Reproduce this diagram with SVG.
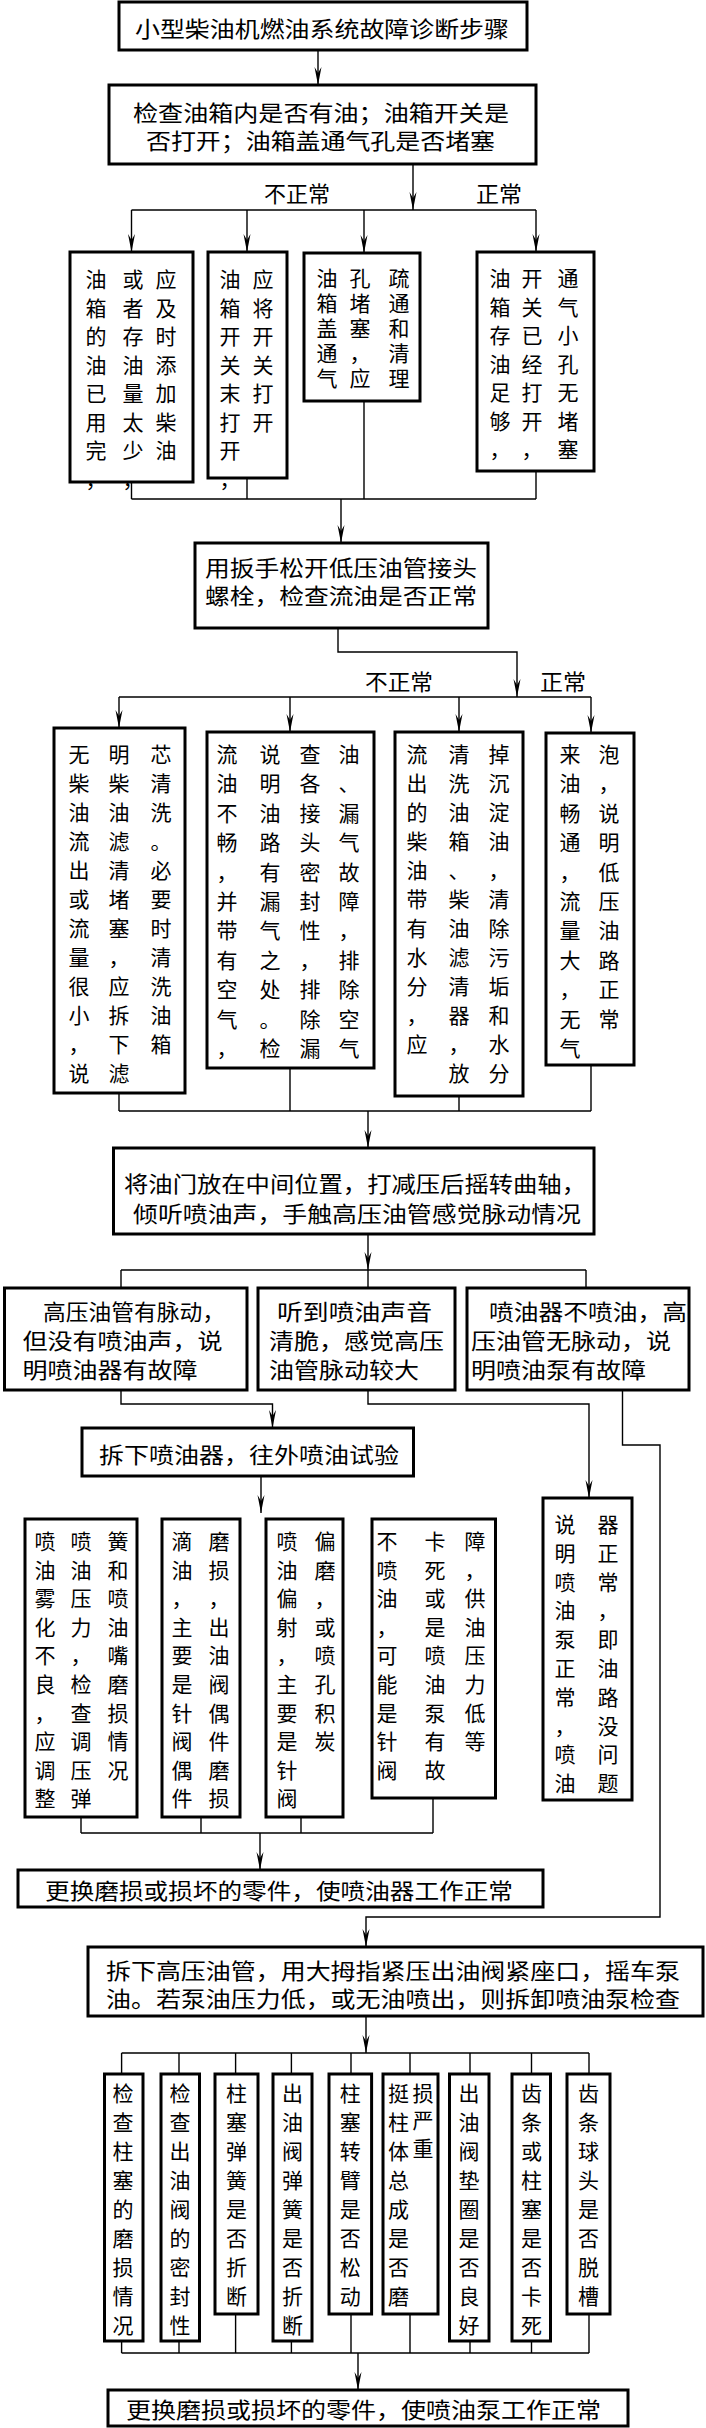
<svg xmlns="http://www.w3.org/2000/svg" width="706" height="2428" viewBox="0 0 706 2428">
<style>
.box{fill:#fff;stroke:#000;stroke-width:3}
.ln{fill:none;stroke:#000;stroke-width:1.4}
.h{font-family:"Noto Sans CJK SC","Noto Sans CJK JP",sans-serif;font-size:22px;fill:#000;dominant-baseline:central}
.v{font-family:"Noto Sans CJK SC","Noto Sans CJK JP",sans-serif;font-size:21px;fill:#000;dominant-baseline:central;text-anchor:middle}
</style>
<defs>
<marker id="ah" markerUnits="userSpaceOnUse" markerWidth="20" markerHeight="10" viewBox="-19 -5 20 10" refX="0" refY="0" orient="auto">
<path d="M0,0 L-18,-3.5 L-12,0 L-18,3.5 Z" fill="#000"/>
</marker>
</defs>
<rect width="706" height="2428" fill="#fff"/>
<g id="connectors">
<path class="ln" d="M318,50 V85" marker-end="url(#ah)"/>
<path class="ln" d="M413,164 V210" marker-end="url(#ah)"/>
<path class="ln" d="M131.5,210 H536"/>
<path class="ln" d="M131.5,210 V252" marker-end="url(#ah)"/>
<path class="ln" d="M247,210 V252" marker-end="url(#ah)"/>
<path class="ln" d="M364,210 V253" marker-end="url(#ah)"/>
<path class="ln" d="M536,210 V252" marker-end="url(#ah)"/>
<path class="ln" d="M131.5,482 V499 M247,478 V499 M364,401 V499 M536,471 V499 M131.5,499 H536"/>
<path class="ln" d="M341,499 V543" marker-end="url(#ah)"/>
<path class="ln" d="M338,628 V652 H517 V697" marker-end="url(#ah)"/>
<path class="ln" d="M119,697 H591"/>
<path class="ln" d="M119,697 V728" marker-end="url(#ah)"/>
<path class="ln" d="M290,697 V732" marker-end="url(#ah)"/>
<path class="ln" d="M459,697 V732" marker-end="url(#ah)"/>
<path class="ln" d="M591,697 V733" marker-end="url(#ah)"/>
<path class="ln" d="M119,1093 V1111 M290,1068 V1111 M459,1096 V1111 M591,1065 V1111 M119,1111 H591"/>
<path class="ln" d="M368,1111 V1148" marker-end="url(#ah)"/>
<path class="ln" d="M368,1234 V1270" marker-end="url(#ah)"/>
<path class="ln" d="M121,1270 H586 M121,1270 V1288 M368,1270 V1288 M586,1270 V1288"/>
<path class="ln" d="M121,1390 V1404 H272.5 V1428" marker-end="url(#ah)"/>
<path class="ln" d="M368,1390 V1404 H589 V1498" marker-end="url(#ah)"/>
<path class="ln" d="M622.5,1390 V1445 H660 V1917 H366 V1947" marker-end="url(#ah)"/>
<path class="ln" d="M261,1476 V1513" marker-end="url(#ah)"/>
<path class="ln" d="M81,1817 V1833 M201,1817 V1833 M301,1817 V1833 M433,1798 V1833 M81,1833 H433"/>
<path class="ln" d="M260,1833 V1870" marker-end="url(#ah)"/>
<path class="ln" d="M366,2016 V2053" marker-end="url(#ah)"/>
<path class="ln" d="M121.6,2053 H589 M121.6,2053 V2074 M179,2053 V2074 M235.6,2053 V2074 M291.4,2053 V2074 M351,2053 V2074 M410,2053 V2074 M470,2053 V2074 M531.5,2053 V2074 M589,2053 V2074"/>
<path class="ln" d="M121.6,2341 V2353 M179,2341 V2353 M235.6,2314 V2353 M291.4,2341 V2353 M351,2314 V2353 M410,2314 V2353 M470,2341 V2353 M531.5,2341 V2353 M589,2314 V2353 M121.6,2353 H589"/>
<path class="ln" d="M358,2353 V2390" marker-end="url(#ah)"/>
</g>
<g id="title">
<rect class="box" x="119" y="2" width="408" height="48"/>
<text class="h" x="135" y="27" textLength="374" lengthAdjust="spacingAndGlyphs">小型柴油机燃油系统故障诊断步骤</text>
</g>
<g id="check-tank">
<rect class="box" x="109" y="85" width="427" height="79"/>
<text class="h"><tspan x="133" y="110.5" textLength="376" lengthAdjust="spacingAndGlyphs">检查油箱内是否有油；油箱开关是</tspan><tspan x="146" y="138.5" textLength="349" lengthAdjust="spacingAndGlyphs">否打开；油箱盖通气孔是否堵塞</tspan></text>
</g>
<g id="r1-add-oil">
<rect class="box" x="70" y="252" width="123" height="230"/>
<text class="v" x="96 96 96 96 96 96 96 96" y="278 306.5 335 363.5 392 420.5 449 477.5">油箱的油已用完，</text>
<text class="v" x="133 133 133 133 133 133 133 133" y="278 306.5 335 363.5 392 420.5 449 477.5">或者存油量太少，</text>
<text class="v" x="166 166 166 166 166 166 166" y="278 306.5 335 363.5 392 420.5 449">应及时添加柴油</text>
</g>
<g id="r1-open-switch">
<rect class="box" x="208" y="252" width="79" height="226"/>
<text class="v" x="230 230 230 230 230 230 230 230" y="278 306.5 335 363.5 392 420.5 449 477.5">油箱开关末打开，</text>
<text class="v" x="263 263 263 263 263 263" y="278 306.5 335 363.5 392 420.5">应将开关打开</text>
</g>
<g id="r1-vent">
<rect class="box" x="304" y="253" width="116" height="148"/>
<text class="v" x="327 327 327 327 327" y="277 302 327 352 377">油箱盖通气</text>
<text class="v" x="360 360 360 360 360" y="277 302 327 352 377">孔堵塞，应</text>
<text class="v" x="399 399 399 399 399" y="277 302 327 352 377">疏通和清理</text>
</g>
<g id="r1-normal">
<rect class="box" x="477" y="252" width="117" height="219"/>
<text class="v" x="500 500 500 500 500 500 500" y="277 305.5 334 362.5 391 419.5 448">油箱存油足够，</text>
<text class="v" x="532 532 532 532 532 532 532" y="277 305.5 334 362.5 391 419.5 448">开关已经打开，</text>
<text class="v" x="568 568 568 568 568 568 568" y="277 305.5 334 362.5 391 419.5 448">通气小孔无堵塞</text>
</g>
<g id="loosen-bolt">
<rect class="box" x="195" y="543" width="293" height="85"/>
<text class="h"><tspan x="205" y="566" textLength="272" lengthAdjust="spacingAndGlyphs">用扳手松开低压油管接头</tspan><tspan x="205" y="594" textLength="272" lengthAdjust="spacingAndGlyphs">螺栓，检查流油是否正常</tspan></text>
</g>
<g id="r2-filter">
<rect class="box" x="54" y="728" width="131" height="365"/>
<text class="v" x="79 79 79 79 79 79 79 79 79 79 79 79" y="753 782 811 840 869 898 927 956 985 1014 1043 1072">无柴油流出或流量很小，说</text>
<text class="v" x="119 119 119 119 119 119 119 119 119 119 119 119" y="753 782 811 840 869 898 927 956 985 1014 1043 1072">明柴油滤清堵塞，应拆下滤</text>
<text class="v" x="161 161 161 161 161 161 161 161 161 161 161" y="753 782 811 840 869 898 927 956 985 1014 1043">芯清洗。必要时清洗油箱</text>
</g>
<g id="r2-leak">
<rect class="box" x="207" y="732" width="167" height="336"/>
<text class="v" x="227 227 227 227 227 227 227 227 227 227 227" y="753 782.4 811.8 841.2 870.6 900 929.4 958.8 988.2 1017.6 1047">流油不畅，并带有空气，</text>
<text class="v" x="270 270 270 270 270 270 270 270 270 270 270" y="753 782.4 811.8 841.2 870.6 900 929.4 958.8 988.2 1017.6 1047">说明油路有漏气之处。检</text>
<text class="v" x="310 310 310 310 310 310 310 310 310 310 310" y="753 782.4 811.8 841.2 870.6 900 929.4 958.8 988.2 1017.6 1047">查各接头密封性，排除漏</text>
<text class="v" x="349 349 349 349 349 349 349 349 349 349 349" y="753 782.4 811.8 841.2 870.6 900 929.4 958.8 988.2 1017.6 1047">油、漏气故障，排除空气</text>
</g>
<g id="r2-water">
<rect class="box" x="395" y="732" width="128" height="364"/>
<text class="v" x="417 417 417 417 417 417 417 417 417 417 417" y="753 782 811 840 869 898 927 956 985 1014 1043">流出的柴油带有水分，应</text>
<text class="v" x="459 459 459 459 459 459 459 459 459 459 459 459" y="753 782 811 840 869 898 927 956 985 1014 1043 1072">清洗油箱、柴油滤清器，放</text>
<text class="v" x="499 499 499 499 499 499 499 499 499 499 499 499" y="753 782 811 840 869 898 927 956 985 1014 1043 1072">掉沉淀油，清除污垢和水分</text>
</g>
<g id="r2-normal">
<rect class="box" x="546" y="733" width="88" height="332"/>
<text class="v" x="570 570 570 570 570 570 570 570 570 570 570" y="753 782.4 811.8 841.2 870.6 900 929.4 958.8 988.2 1017.6 1047">来油畅通，流量大，无气</text>
<text class="v" x="609 609 609 609 609 609 609 609 609 609" y="753 782.4 811.8 841.2 870.6 900 929.4 958.8 988.2 1017.6">泡，说明低压油路正常</text>
</g>
<g id="throttle-test">
<rect class="box" x="113.5" y="1148" width="480.5" height="86"/>
<text class="h"><tspan x="124" y="1182" textLength="462" lengthAdjust="spacingAndGlyphs">将油门放在中间位置，打减压后摇转曲轴，</tspan><tspan x="133" y="1212" textLength="448" lengthAdjust="spacingAndGlyphs">倾听喷油声，手触高压油管感觉脉动情况</tspan></text>
</g>
<g id="injector-fault">
<rect class="box" x="4.5" y="1288" width="242.5" height="102"/>
<text class="h"><tspan x="43" y="1310" textLength="182" lengthAdjust="spacingAndGlyphs">高压油管有脉动，</tspan><tspan x="22.5" y="1339" textLength="200" lengthAdjust="spacingAndGlyphs">但没有喷油声，说</tspan><tspan x="22.5" y="1368" textLength="175" lengthAdjust="spacingAndGlyphs">明喷油器有故障</tspan></text>
</g>
<g id="sound-ok">
<rect class="box" x="258" y="1288" width="197" height="102"/>
<text class="h"><tspan x="277" y="1310" textLength="155" lengthAdjust="spacingAndGlyphs">听到喷油声音</tspan><tspan x="269" y="1339" textLength="175" lengthAdjust="spacingAndGlyphs">清脆，感觉高压</tspan><tspan x="269" y="1368" textLength="150" lengthAdjust="spacingAndGlyphs">油管脉动较大</tspan></text>
</g>
<g id="pump-fault">
<rect class="box" x="467" y="1288" width="222" height="102"/>
<text class="h"><tspan x="489" y="1310" textLength="198" lengthAdjust="spacingAndGlyphs">喷油器不喷油，高</tspan><tspan x="471" y="1339" textLength="200" lengthAdjust="spacingAndGlyphs">压油管无脉动，说</tspan><tspan x="471" y="1368" textLength="175" lengthAdjust="spacingAndGlyphs">明喷油泵有故障</tspan></text>
</g>
<g id="remove-injector">
<rect class="box" x="82" y="1428" width="331.5" height="48"/>
<text class="h" x="99" y="1453" textLength="300" lengthAdjust="spacingAndGlyphs">拆下喷油器，往外喷油试验</text>
</g>
<g id="i1-atomize">
<rect class="box" x="25" y="1519" width="112" height="298"/>
<text class="v" x="45 45 45 45 45 45 45 45 45 45" y="1540 1568.6 1597.2 1625.8 1654.4 1683 1711.6 1740.2 1768.8 1797.4">喷油雾化不良，应调整</text>
<text class="v" x="81 81 81 81 81 81 81 81 81 81" y="1540 1568.6 1597.2 1625.8 1654.4 1683 1711.6 1740.2 1768.8 1797.4">喷油压力，检查调压弹</text>
<text class="v" x="118 118 118 118 118 118 118 118 118" y="1540 1568.6 1597.2 1625.8 1654.4 1683 1711.6 1740.2 1768.8">簧和喷油嘴磨损情况</text>
</g>
<g id="i2-drip">
<rect class="box" x="162" y="1519" width="78" height="298"/>
<text class="v" x="182 182 182 182 182 182 182 182 182 182" y="1540 1568.6 1597.2 1625.8 1654.4 1683 1711.6 1740.2 1768.8 1797.4">滴油，主要是针阀偶件</text>
<text class="v" x="219 219 219 219 219 219 219 219 219 219" y="1540 1568.6 1597.2 1625.8 1654.4 1683 1711.6 1740.2 1768.8 1797.4">磨损，出油阀偶件磨损</text>
</g>
<g id="i3-spray">
<rect class="box" x="266" y="1519" width="77" height="298"/>
<text class="v" x="287 287 287 287 287 287 287 287 287 287" y="1540 1568.6 1597.2 1625.8 1654.4 1683 1711.6 1740.2 1768.8 1797.4">喷油偏射，主要是针阀</text>
<text class="v" x="325 325 325 325 325 325 325 325" y="1540 1568.6 1597.2 1625.8 1654.4 1683 1711.6 1740.2">偏磨，或喷孔积炭</text>
</g>
<g id="i4-noinject">
<rect class="box" x="372" y="1519" width="123.5" height="279"/>
<text class="v" x="387 387 387 387 387 387 387 387 387" y="1540 1568.6 1597.2 1625.8 1654.4 1683 1711.6 1740.2 1768.8">不喷油，可能是针阀</text>
<text class="v" x="435 435 435 435 435 435 435 435 435" y="1540 1568.6 1597.2 1625.8 1654.4 1683 1711.6 1740.2 1768.8">卡死或是喷油泵有故</text>
<text class="v" x="475 475 475 475 475 475 475 475" y="1540 1568.6 1597.2 1625.8 1654.4 1683 1711.6 1740.2">障，供油压力低等</text>
</g>
<g id="i5-normal">
<rect class="box" x="543" y="1498" width="89" height="302"/>
<text class="v" x="565 565 565 565 565 565 565 565 565 565" y="1523 1551.8 1580.6 1609.4 1638.2 1667 1695.8 1724.6 1753.4 1782.2">说明喷油泵正常，喷油</text>
<text class="v" x="608 608 608 608 608 608 608 608 608 608" y="1523 1551.8 1580.6 1609.4 1638.2 1667 1695.8 1724.6 1753.4 1782.2">器正常，即油路没问题</text>
</g>
<g id="replace-injector-parts">
<rect class="box" x="18" y="1870" width="525" height="37"/>
<text class="h" x="45" y="1889" textLength="468" lengthAdjust="spacingAndGlyphs">更换磨损或损坏的零件，使喷油器工作正常</text>
</g>
<g id="pump-check">
<rect class="box" x="88" y="1947" width="615" height="69"/>
<text class="h"><tspan x="106" y="1969" textLength="574" lengthAdjust="spacingAndGlyphs">拆下高压油管，用大拇指紧压出油阀紧座口，摇车泵</tspan><tspan x="106" y="1997" textLength="574" lengthAdjust="spacingAndGlyphs">油。若泵油压力低，或无油喷出，则拆卸喷油泵检查</tspan></text>
</g>
<g id="p1">
<rect class="box" x="104.5" y="2074" width="38.5" height="267"/>
<text class="v" x="123 123 123 123 123 123 123 123 123" y="2092 2121 2150 2179 2208 2237 2266 2295 2324">检查柱塞的磨损情况</text>
</g>
<g id="p2">
<rect class="box" x="161" y="2074" width="38.5" height="267"/>
<text class="v" x="180 180 180 180 180 180 180 180 180" y="2092 2121 2150 2179 2208 2237 2266 2295 2324">检查出油阀的密封性</text>
</g>
<g id="p3">
<rect class="box" x="215" y="2074" width="43" height="240"/>
<text class="v" x="236.5 236.5 236.5 236.5 236.5 236.5 236.5 236.5" y="2092 2121 2150 2179 2208 2237 2266 2295">柱塞弹簧是否折断</text>
</g>
<g id="p4">
<rect class="box" x="273" y="2074" width="39" height="267"/>
<text class="v" x="292.5 292.5 292.5 292.5 292.5 292.5 292.5 292.5 292.5" y="2092 2121 2150 2179 2208 2237 2266 2295 2324">出油阀弹簧是否折断</text>
</g>
<g id="p5">
<rect class="box" x="329" y="2074" width="42.6" height="240"/>
<text class="v" x="350.3 350.3 350.3 350.3 350.3 350.3 350.3 350.3" y="2092 2121 2150 2179 2208 2237 2266 2295">柱塞转臂是否松动</text>
</g>
<g id="p6">
<rect class="box" x="383" y="2074" width="55" height="240"/>
<text class="v" x="398.6 398.6 398.6 398.6 398.6 398.6 398.6 398.6" y="2092 2121 2150 2179 2208 2237 2266 2295">挺柱体总成是否磨</text>
<text class="v" x="423 423 423" y="2092 2119 2147">损严重</text>
</g>
<g id="p7">
<rect class="box" x="449.5" y="2074" width="39.5" height="267"/>
<text class="v" x="469 469 469 469 469 469 469 469 469" y="2092 2121 2150 2179 2208 2237 2266 2295 2324">出油阀垫圈是否良好</text>
</g>
<g id="p8">
<rect class="box" x="512" y="2074" width="38.5" height="267"/>
<text class="v" x="531.5 531.5 531.5 531.5 531.5 531.5 531.5 531.5 531.5" y="2092 2121 2150 2179 2208 2237 2266 2295 2324">齿条或柱塞是否卡死</text>
</g>
<g id="p9">
<rect class="box" x="567" y="2074" width="43" height="240"/>
<text class="v" x="588.5 588.5 588.5 588.5 588.5 588.5 588.5 588.5" y="2092 2121 2150 2179 2208 2237 2266 2295">齿条球头是否脱槽</text>
</g>
<g id="replace-pump-parts">
<rect class="box" x="108" y="2390" width="520" height="36"/>
<text class="h" x="126" y="2408" textLength="475" lengthAdjust="spacingAndGlyphs">更换磨损或损坏的零件，使喷油泵工作正常</text>
</g>
<g id="labels">
<text class="h" x="264" y="192" textLength="66" lengthAdjust="spacingAndGlyphs">不正常</text>
<text class="h" x="476" y="192" textLength="46" lengthAdjust="spacingAndGlyphs">正常</text>
<text class="h" x="365" y="680" textLength="68" lengthAdjust="spacingAndGlyphs">不正常</text>
<text class="h" x="540" y="680" textLength="46" lengthAdjust="spacingAndGlyphs">正常</text>
</g>
</svg>
